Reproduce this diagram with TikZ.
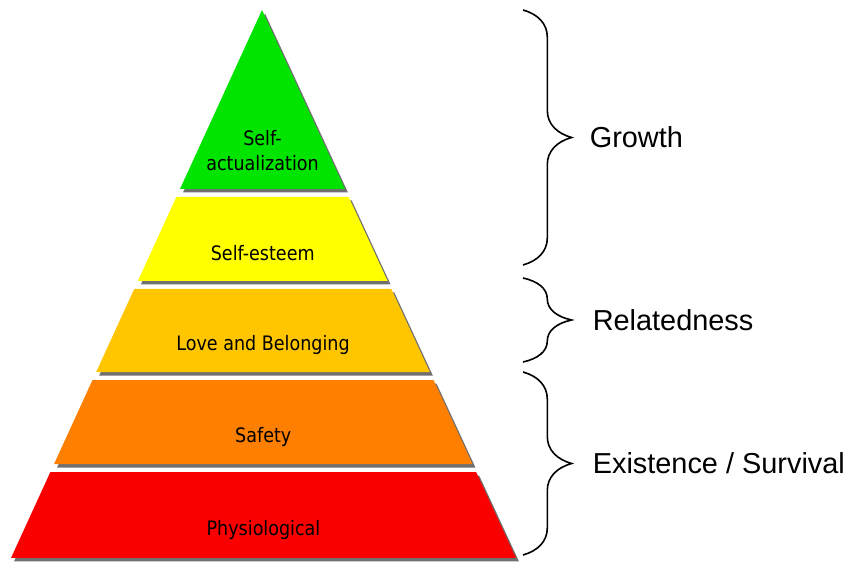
\documentclass[tikz,border=0pt]{standalone}
\usepackage{fontspec}
\setmainfont{Liberation Sans}
\newfontfamily\tierfont[FakeStretch=0.88]{DejaVu Sans}
\usepackage{tikz}
\usetikzlibrary{calc,shadows,decorations.pathreplacing}
\definecolor{mygreen}{RGB}{0,228,0}
\definecolor{myyellow}{RGB}{255,255,0}
\definecolor{myamber}{RGB}{255,198,0}
\definecolor{myorange}{RGB}{255,128,0}
\definecolor{myred}{RGB}{250,0,0}

\tikzset{
    layer/.style={drop shadow={shadow xshift=3bp, shadow yshift=-3.5bp, fill=black!75, opacity=0.75}},
    tier/.style={align=center, inner sep=0pt, font=\tierfont\fontsize{20}{25}\selectfont},
    ergbrace/.style={decorate, line width=1.6bp,
        decoration={brace, amplitude=27bp, transform={yscale=1.8}}},
    erg/.style={anchor=west, inner sep=0pt, font=\fontsize{29}{34}\selectfont},
}

\begin{document}
\begin{tikzpicture}[x=1bp, y=1bp]
    \useasboundingbox (0,0) rectangle (848,562);

    % Pyramid outline
    \coordinate (apex) at (262,552);
    \coordinate (bl) at (11,4);
    \coordinate (br) at (516,4);

    % Need levels, from top to bottom
    \foreach \lname/\ta/\tb/\col/\dy/\txt in {
        selfact/0/0.3266/mygreen/38/{Self-\\actualization},
        esteem/0.3412/0.4945/myyellow/28/{Self-esteem},
        love/0.5091/0.6606/myamber/27/{Love and Belonging},
        safety/0.6752/0.8285/myorange/27/{Safety},
        physio/0.8431/1/myred/28/{Physiological}} {
        \coordinate (\lname-tl) at ($(apex)!\ta!(bl)$);
        \coordinate (\lname-tr) at ($(apex)!\ta!(br)$);
        \coordinate (\lname-bl) at ($(apex)!\tb!(bl)$);
        \coordinate (\lname-br) at ($(apex)!\tb!(br)$);
        \fill[layer, \col] (\lname-tl) -- (\lname-tr) -- (\lname-br) -- (\lname-bl) -- cycle;
        \node[tier] (\lname) at ($(\lname-bl)!0.5!(\lname-br)+(0,\dy)$) {\txt};
    }

    % ERG braces
    \coordinate (g-top) at (523,552);
    \coordinate (g-bot) at (523,297);
    \coordinate (r-top) at (523,284);
    \coordinate (r-bot) at (523,200);
    \coordinate (e-top) at (523,190);
    \coordinate (e-bot) at (523,7);

    \draw[ergbrace] (g-top) -- (g-bot) node[midway, erg, xshift=66bp] (growth) {Growth};
    \draw[ergbrace] (r-top) -- (r-bot) node[midway, erg, xshift=69bp] (related) {Relatedness};
    \draw[ergbrace] (e-top) -- (e-bot) node[midway, erg, xshift=69bp] (exist) {Existence / Survival};
\end{tikzpicture}
\end{document}
